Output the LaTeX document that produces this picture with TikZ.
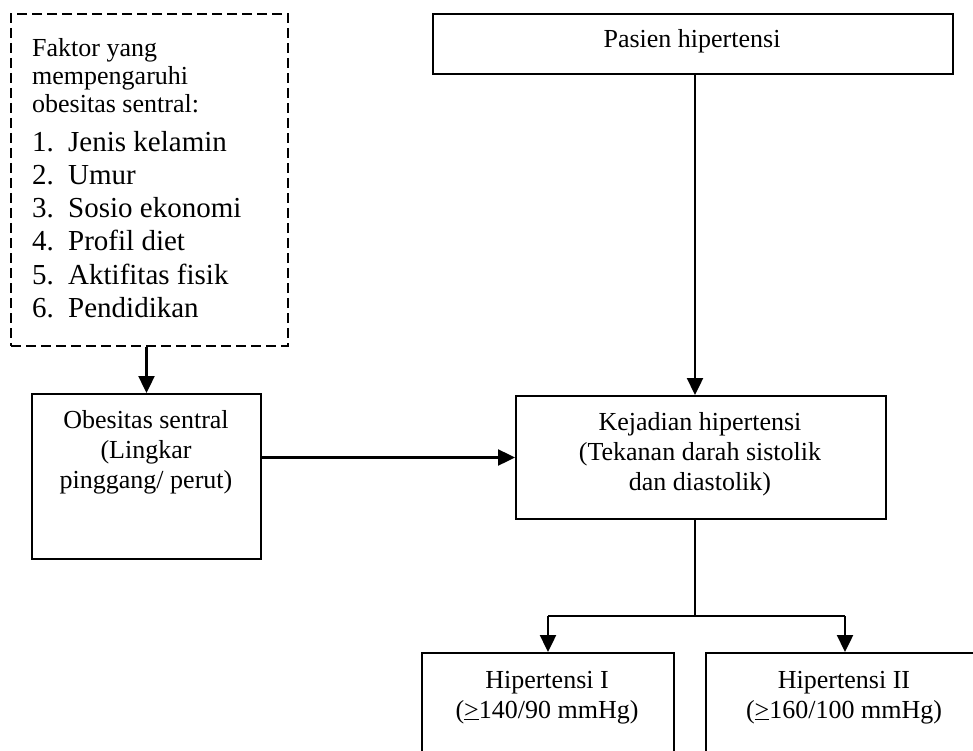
\documentclass[tikz,border=0pt]{standalone}
\usepackage{fontspec}
\setmainfont{Liberation Serif}
\usetikzlibrary{arrows.meta}
\begin{document}
\begin{tikzpicture}[x=1pt,y=-1pt,
  box/.style={draw,line width=2pt,rectangle,inner sep=0pt,anchor=north west},
  dbox/.style={box,dash pattern=on 10pt off 5pt},
  txt/.style={inner sep=0pt,align=center,font=\fontsize{26}{30}\selectfont},
  small/.style={inner sep=0pt,anchor=base west,font=\fontsize{26}{28}\selectfont},
  lst/.style={inner sep=0pt,anchor=base west,font=\fontsize{29}{33}\selectfont},
  conn/.style={line width=2.4pt,-{Triangle[length=17pt,width=16pt]}},
  ln/.style={line width=2.4pt}]
\useasboundingbox (0,0) rectangle (973,751);
\clip (0,0) rectangle (973,751);
\fill[white] (0,0) rectangle (973,751);
% boxes
\node[dbox,minimum width=277pt,minimum height=332pt] (fac) at (10,13) {};
\node[box,minimum width=229pt,minimum height=165pt] (ob) at (31,393) {};
\node[box,minimum width=520pt,minimum height=60pt] (pas) at (432,13) {};
\node[box,minimum width=370pt,minimum height=123pt] (kej) at (515,395) {};
\node[box,minimum width=252pt,minimum height=140pt] (h1) at (421,652) {};
\node[box,minimum width=278pt,minimum height=140pt] (h2) at (705,652) {};
% texts
\node[small] (f1) at (32,57) {Faktor yang};
\node[small] (f2) at (32,85) {mempengaruhi};
\node[small] (f3) at (32,113) {obesitas sentral:};
\foreach \i/\y/\t in {1/152/Jenis kelamin,2/185/Umur,3/218/Sosio ekonomi,4/251/Profil diet,5/284/Aktifitas fisik,6/317/Pendidikan}{
  \node[lst] (n\i) at (32,\y) {\i.};
  \node[lst] (l\i) at (68,\y) {\t};
}
\node[txt,anchor=base] (tpas) at (692,48) {Pasien hipertensi};
\node[txt,anchor=north] (tob) at (146,407) {\strut Obesitas sentral\\\strut(Lingkar\\\strut pinggang/ perut)};
\node[txt,anchor=north] (tkej) at (700,409) {\strut Kejadian hipertensi\\\strut(Tekanan darah sistolik\\\strut dan diastolik)};
\node[txt,anchor=north] (th1) at (547,667) {\strut Hipertensi I\\\strut(\underline{>}140/90 mmHg)};
\node[txt,anchor=north] (th2) at (844,667) {\strut Hipertensi II\\\strut(\underline{>}160/100 mmHg)};
% connectors
\coordinate (vx) at (695,0);
\coordinate (br) at (0,616);
\draw[conn] (ob.north |- fac.south) -- (ob.north);
\draw[conn] (ob.east |- kej.west) -- (kej.west);
\draw[conn] (pas.south -| vx) -- (kej.north -| vx);
\draw[ln] (kej.south -| vx) -- (vx |- br);
\draw[ln] (h1.north |- br) -- (h2.north |- br);
\draw[conn] (h1.north |- br) -- (h1.north);
\draw[conn] (h2.north |- br) -- (h2.north);
\end{tikzpicture}
\end{document}
